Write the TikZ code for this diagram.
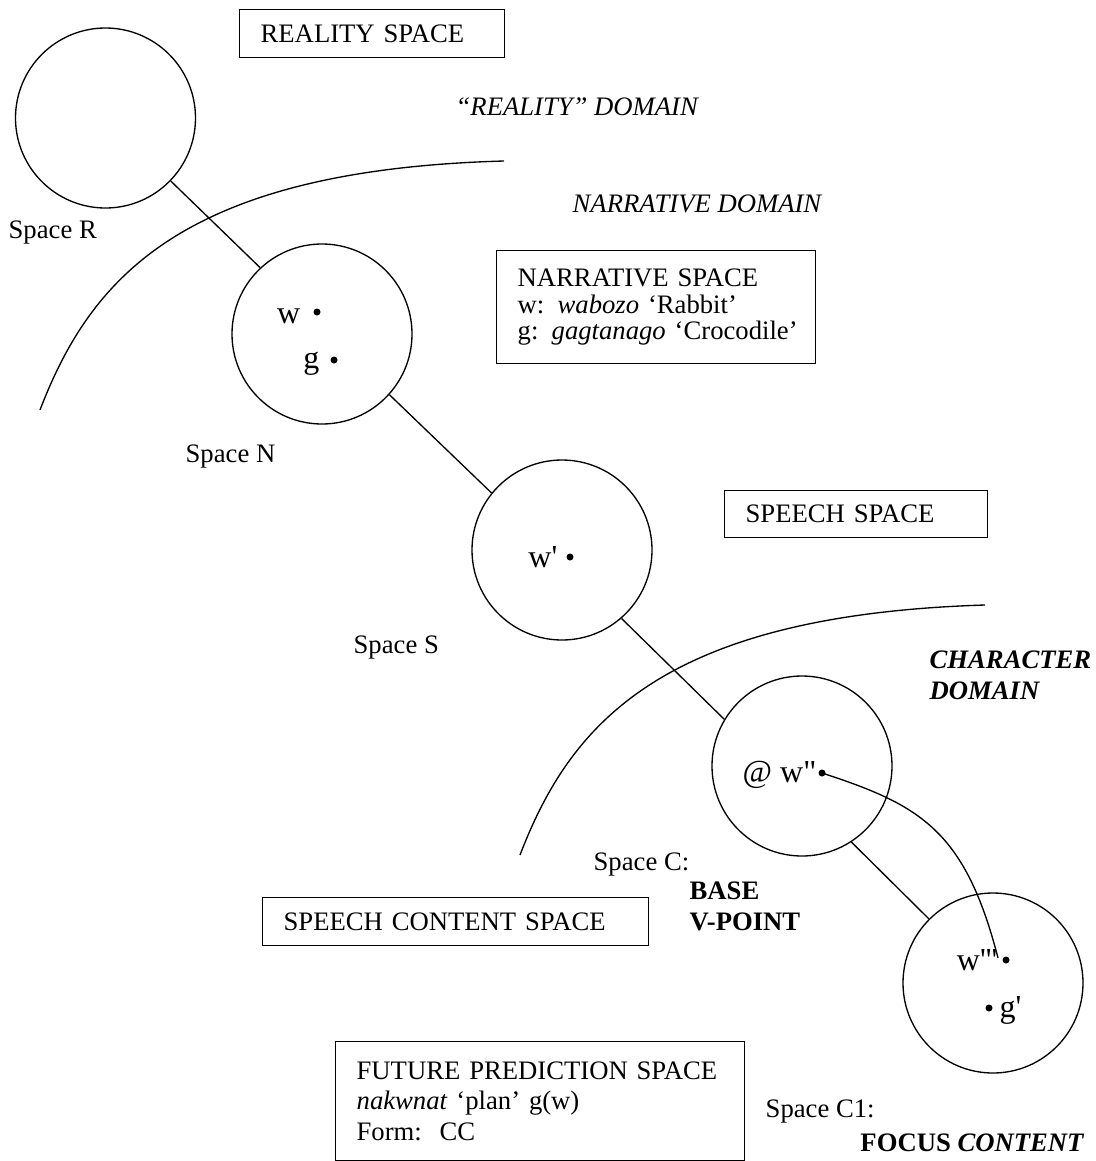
\documentclass[tikz,border=0pt]{standalone}
\usepackage{fontspec}
\setmainfont{Liberation Serif}[Ligatures=TeXOff]
\newcommand\boxindent{\hspace*{15.75pt}}
\begin{document}
\begin{tikzpicture}[x=0.75pt,y=-0.75pt,
  every node/.append style={font=\fontsize{20}{24}\selectfont},
  line width=1pt,
  space/.style={draw,circle,minimum size=135pt,inner sep=0pt},
  dotmark/.style={circle,fill,inner sep=0pt,minimum size=5.25pt},
  lbl/.style={anchor=base west,inner sep=0pt},
  elem/.style={anchor=base east,inner sep=0pt,font=\fontsize{24}{28}\selectfont},
  dom/.style={lbl,font=\fontsize{20}{24}\selectfont\itshape},
  bdom/.style={lbl,font=\fontsize{20}{24}\selectfont\bfseries\itshape},
  boxed/.style={draw,rectangle,anchor=north west,align=left,inner xsep=0pt,inner ysep=0pt}
]
\useasboundingbox (0,0) rectangle (1096,1161);

% mental spaces
\node[space] (R)  at (105.5,118) {};
\node[space] (N)  at (322,334) {};
\node[space] (S)  at (562,550) {};
\node[space] (C)  at (802,766) {};
\node[space] (C1) at (993,983) {};

% links between spaces
\draw (R.-44) -- (N.133);
\draw (N.-42) -- (S.141);
\draw (S.-49) -- (C.149);
\draw (C.-57) -- (C1.135);

% domain boundaries
\coordinate (b1s) at (40,410);
\coordinate (b1e) at (504,161);
\draw (b1s) .. controls (90,280) and (180,170) .. (b1e);
\coordinate (b2s) at (520,855);
\coordinate (b2e) at (985,605);
\draw (b2s) .. controls (570,725) and (660,615) .. (b2e);

% space titles
\node[boxed,minimum height=36pt,text width=198.75pt] (realbox) at (239,9) {\boxindent REALITY SPACE};
\node[boxed,minimum height=84.75pt,text width=239.25pt,font=\fontsize{20}{19.9}\selectfont] (narrbox) at (496,250)
  {\boxindent NARRATIVE SPACE\\\boxindent w: \textit{wabozo} ‘Rabbit’\\\boxindent g: \textit{gagtanago} ‘Crocodile’};
\node[boxed,minimum height=35.25pt,text width=197.25pt] (speechbox) at (724,490) {\boxindent SPEECH SPACE};
\node[boxed,minimum height=36pt,text width=289.5pt] (contentbox) at (262,897) {\boxindent SPEECH CONTENT SPACE};
\node[boxed,minimum height=89.25pt,text width=306.75pt,font=\fontsize{20}{22.9}\selectfont] (futbox) at (335,1041)
  {\boxindent FUTURE PREDICTION SPACE\\\boxindent\textit{nakwnat} ‘plan’ g(w)\\\boxindent Form:\ \ CC};

% domain names
\node[dom] (realdom) at (455,115) {“REALITY” DOMAIN};
\node[dom] (narrdom) at (572,212) {NARRATIVE DOMAIN};
\node[bdom] (chardom1) at (929,668) {CHARACTER};
\node[bdom] (chardom2) at (929,699) {DOMAIN};

% space labels
\node[lbl] (labR) at (8,238) {Space R};
\node[lbl] (labN) at (185,462) {Space N};
\node[lbl] (labS) at (353,653) {Space S};
\node[lbl] (labC) at (593,870) {Space C:};
\node[lbl,font=\fontsize{20}{24}\selectfont\bfseries] (base) at (689,899) {BASE};
\node[lbl,font=\fontsize{20}{24}\selectfont\bfseries] (vpoint) at (689,930) {V-POINT};
\node[lbl] (labC1) at (765,1117) {Space C1:};
\node[anchor=base east,inner sep=0pt,font=\fontsize{20}{24}\selectfont\bfseries] (focus) at (1085,1151) {FOCUS \textit{CONTENT}};

% elements inside the spaces
\node[elem] (tw) at (301,323) {w};
\node[dotmark] (dw) at (317,312) {};
\node[elem] (tg) at (320,368) {g};
\node[dotmark] (dg) at (334,360) {};
\node[elem] (tw1) at (558,567) {w'};
\node[dotmark] (dw1) at (570,557) {};
\node[elem] (tw2) at (817,782) {@ w"};
\node[dotmark] (dw2) at (822,773) {};
\node[elem] (tw3) at (998,970) {w'''};
\node[dotmark] (dw3) at (1006,960) {};
\node[dotmark] (dg1) at (989,1008) {};
\node[elem,anchor=base west] (tg1) at (999,1017) {g'};

% counterpart link from w" to w'''
\coordinate (w3end) at (998,958);
\draw (dw2.center) .. controls (920,805) and (965,830) .. (w3end);
\end{tikzpicture}
\end{document}
